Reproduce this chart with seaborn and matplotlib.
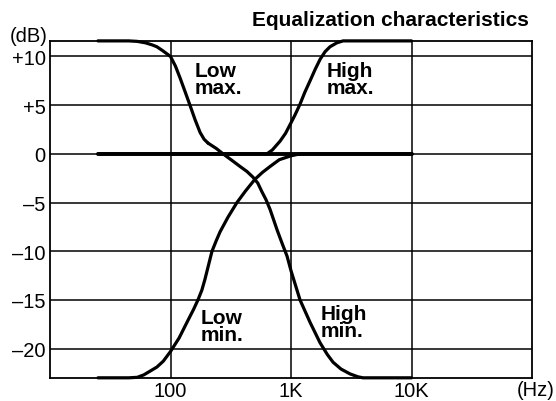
import matplotlib
matplotlib.use("Agg")
import matplotlib.pyplot as plt
import seaborn as sns
import pandas as pd

# ---- data ----
flat_freq = [25, 10000]
flat_db = [0, 0]

low_max_freq = [25, 45, 53, 62, 70, 77, 86, 100, 110, 120, 132, 145, 160, 176, 190, 205]
low_max_db = [11.6, 11.6, 11.55, 11.4, 11.2, 11.0, 10.6, 10.0, 9.0, 7.8, 6.4, 5.0, 3.5, 2.2, 1.5, 1.1]

high_min_freq = [205, 240, 273, 330, 378, 430, 484, 530, 574, 620, 670, 766, 850, 927, 1000, 1188, 1439, 1742, 2000, 2234, 2600, 3090, 3600, 3963, 10000]
high_min_db = [1.1, 0.55, 0.0, -0.75, -1.3, -1.8, -2.4, -3.0, -3.9, -4.7, -5.7, -7.8, -9.3, -10.5, -12.0, -15.0, -17.3, -19.4, -20.6, -21.4, -22.1, -22.6, -22.9, -23.0, -23.0]

low_min_freq = [25, 45, 53, 60, 68, 77, 87, 100, 118, 137, 155, 169, 182, 193, 207, 221, 240, 258, 300, 356, 420, 503, 580, 670, 800, 1000, 1188, 10000]
low_min_db = [-23, -23, -22.95, -22.7, -22.3, -21.9, -21.3, -20.3, -18.9, -17.3, -16.0, -15.0, -14.0, -12.9, -11.4, -10.0, -8.9, -8.0, -6.5, -5.0, -3.8, -2.6, -1.9, -1.3, -0.6, -0.2, 0.0, 0.0]

high_max_freq = [25, 632, 700, 811, 900, 982, 1080, 1188, 1300, 1439, 1590, 1742, 1920, 2109, 2400, 2704, 10000]
high_max_db = [0, 0, 0.4, 1.3, 2.1, 3.0, 4.0, 5.1, 6.3, 7.5, 8.7, 9.7, 10.5, 11.0, 11.4, 11.6, 11.6]

x_ticks = [100, 1000, 10000]
x_tick_labels = ["100", "1K", "10K"]
y_ticks = [10, 5, 0, -5, -10, -15, -20]
y_tick_labels = ["+10", "+5", "0", "–5", "–10", "–15", "–20"]

labels = ["Low\nmax.", "High\nmax.", "Low\nmin.", "High\nmin."]
title = "Equalization characteristics"

# ---- figure ----
sns.set_theme(style="white")
plt.rcParams["font.family"] = ["Liberation Sans", "DejaVu Sans"]

fig = plt.figure(figsize=(5.56, 4.02), dpi=100)
W, H = 556, 402
ax = fig.add_axes([50 / W, (H - 379.3) / H, (532 - 50) / W, (379.3 - 41.7) / H])

ax.set_xscale("log")
ax.set_xlim(10, 100000)
ax.set_ylim(-23.05, 11.62)

# grid
for xv in x_ticks:
    ax.axvline(xv, color="black", lw=1.1, zorder=1)
for yv in y_ticks:
    ax.axhline(yv, color="black", lw=1.1, zorder=1)

curves = [
    (flat_freq, flat_db, 2.8),
    (low_max_freq, low_max_db, 2.3),
    (high_min_freq, high_min_db, 2.3),
    (low_min_freq, low_min_db, 2.3),
    (high_max_freq, high_max_db, 2.3),
]
for fr, db, lw in curves:
    df = pd.DataFrame({"freq": fr, "db": db})
    sns.lineplot(data=df, x="freq", y="db", ax=ax, color="black", lw=lw,
                 sort=False, estimator=None, zorder=3, clip_on=False)

ax.set_xticks(x_ticks)
ax.set_xticklabels(x_tick_labels)
ax.set_yticks(y_ticks)
ax.set_yticklabels(y_tick_labels)
ax.minorticks_off()
ax.tick_params(axis="both", length=0, labelsize=14.5, colors="black", pad=3)
ax.tick_params(axis="x", pad=2)
ax.set_xlabel("")
ax.set_ylabel("")
for sp in ax.spines.values():
    sp.set_visible(True)
    sp.set_color("black")
    sp.set_linewidth(1.3)

def px(x, y):
    return x / W, 1 - y / H

fig.text(*px(529, 20), title, ha="right", va="center", fontsize=15,
         fontweight="bold", color="black")
fig.text(*px(48, 36), "(dB)", ha="right", va="center", fontsize=14.5, color="black")
fig.text(*px(555, 391), "(Hz)", ha="right", va="center", fontsize=14.5, color="black")

label_pos = [(195, 80), (327, 80), (201, 327), (321, 323)]
for (lx, ly), lab in zip(label_pos, labels):
    fig.text(*px(lx, ly), lab, ha="left", va="center", fontsize=15,
             fontweight="bold", color="black", linespacing=0.85)

fig.savefig("out.png", dpi=100)
